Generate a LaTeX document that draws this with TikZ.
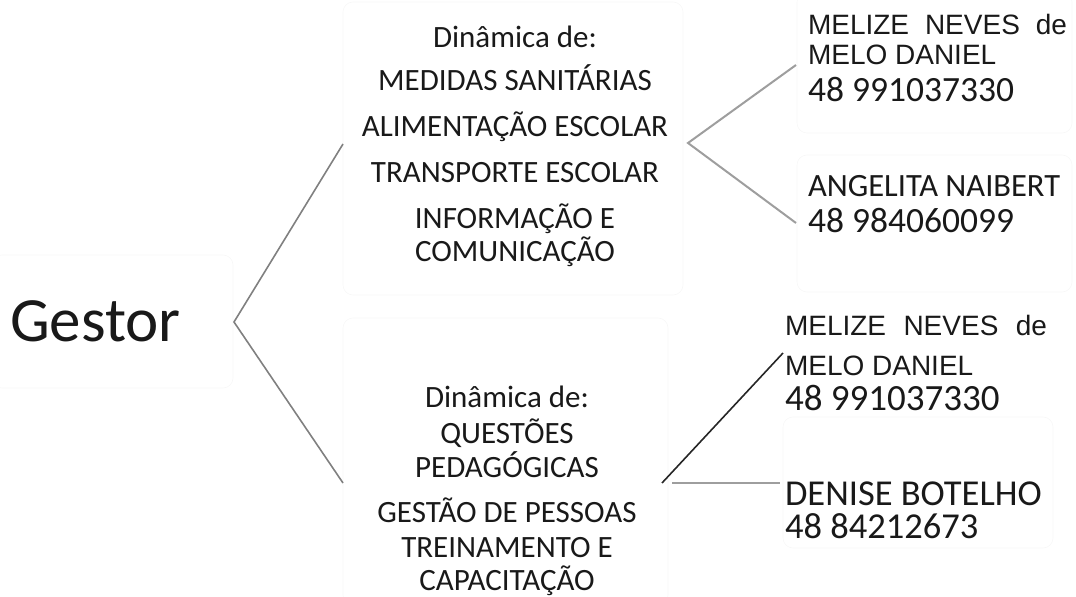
\documentclass[tikz,border=0pt]{standalone}
\usepackage{fontspec}
\newfontfamily\calfont{Carlito}
\newfontfamily\arifont{Liberation Sans}
\tikzset{
  txt/.style={inner sep=0pt, outer sep=0pt, text=black!90},
  mid/.style={txt, anchor=base, font=\calfont\fontsize{31bp}{31bp}\selectfont},
  rname/.style={txt, anchor=base west, font=\arifont\fontsize{28bp}{28bp}\selectfont},
  rcal/.style={txt, anchor=base west, text depth=0pt, font=\calfont\fontsize{36bp}{36bp}\selectfont},
  fbox/.style={draw=black!3, line width=0.6bp, rounded corners=10bp},
  link/.style={draw=black!50, line width=1.6bp},
  linklight/.style={draw=black!38, line width=2bp},
  linkdark/.style={draw=black!85, line width=1.6bp}
}
\begin{document}
\begin{tikzpicture}[x=1bp,y=-1bp]
\useasboundingbox (0,0) rectangle (1076,597);
% faint background boxes
\draw[fbox] (-8,255) rectangle (233,388);
\draw[fbox] (343,2) rectangle (683,295);
\draw[fbox] (343,318) rectangle (668,605);
\draw[fbox] (797,-8) rectangle (1072,133);
\draw[fbox] (797,155) rectangle (1072,292);
\draw[fbox] (783,417) rectangle (1053,548);

% Gestor
\node[txt, anchor=base west, font=\calfont\fontsize{63bp}{63bp}\selectfont] (gestor) at (10,341) {Gestor};

% top middle block
\node[mid] (t0) at (515,48) {Dinâmica de:};
\node[mid] (t1) at (515,91) {MEDIDAS SANITÁRIAS};
\node[mid] (t2) at (515,137) {ALIMENTAÇÃO ESCOLAR};
\node[mid] (t3) at (515,183) {TRANSPORTE ESCOLAR};
\node[mid] (t4) at (515,229) {INFORMAÇÃO E};
\node[mid] (t5) at (515,262) {COMUNICAÇÃO};

% bottom middle block
\node[mid] (b0) at (507,407) {Dinâmica de:};
\node[mid] (b1) at (507,443) {QUESTÕES};
\node[mid] (b2) at (507,477) {PEDAGÓGICAS};
\node[mid] (b3) at (507,522) {GESTÃO DE PESSOAS};
\node[mid] (b4) at (507,557) {TREINAMENTO E};
\node[mid] (b5) at (507,590) {CAPACITAÇÃO};

% top right
\node[rname] (r1a) at (808,35) {\makebox[259bp][s]{MELIZE NEVES de}};
\node[rname] (r1b) at (808,65) {MELO DANIEL};
\node[rcal, font=\calfont\fontsize{35.5bp}{35.5bp}\selectfont] (r1c) at (808,102) {48 991037330};
\node[rcal, font=\calfont\fontsize{32.5bp}{32.5bp}\selectfont] (r2a) at (808,197) {ANGELITA NAIBERT};
\node[rcal, font=\calfont\fontsize{35.5bp}{35.5bp}\selectfont] (r2b) at (808,233) {48 984060099};

% bottom right
\node[rname] (r3a) at (785,335) {\makebox[262bp][s]{MELIZE NEVES de}};
\node[rname] (r3b) at (785,375) {MELO DANIEL};
\node[rcal, font=\calfont\fontsize{37bp}{37bp}\selectfont] (r3c) at (785,410) {48 991037330};
\node[rcal, font=\calfont\fontsize{36.5bp}{36.5bp}\selectfont] (r4a) at (785,505) {DENISE BOTELHO};
\node[rcal, font=\calfont\fontsize{36.5bp}{36.5bp}\selectfont] (r4b) at (785,538) {48 84212673};

% connector points
\coordinate (gA) at (234,322);
\coordinate (gT) at (343,144);
\coordinate (gB) at (343,483);
\coordinate (tA) at (688,143);
\coordinate (tT) at (796,65);
\coordinate (tB) at (796,223);
\coordinate (bA) at (662,483);
\coordinate (bT) at (783,353);
\coordinate (hA) at (672,483);
\coordinate (hB) at (780,483);

\draw[link] (gT) -- (gA) -- (gB);
\draw[linklight] (tT) -- (tA) -- (tB);
\draw[linkdark] (bA) -- (bT);
\draw[linklight] (hA) -- (hB);
\end{tikzpicture}
\end{document}
